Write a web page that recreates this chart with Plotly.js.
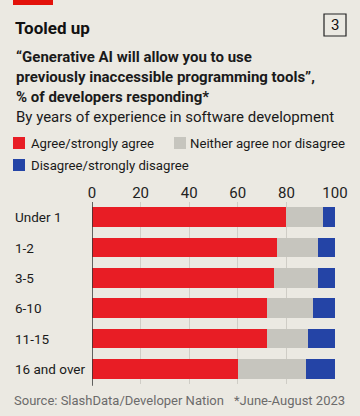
<!DOCTYPE html>
<html><head><meta charset="utf-8">
<script src="https://cdn.plot.ly/plotly-3.0.1.min.js"></script>
<style>html,body{margin:0;padding:0;background:#ebe9e2;}#chart{width:360px;height:416px;}</style>
</head><body><div id="chart"></div>
<script>
const categories = ["Under 1","1-2","3-5","6-10","11-15","16 and over"];
const agree = [80, 76, 75, 72, 72, 60];
const neither = [15, 17, 18, 19, 17, 28];
const disagree = [5, 7, 7, 9, 11, 12];
const seriesNames = ["Agree/strongly agree","Neither agree nor disagree","Disagree/strongly disagree"];
const colors = ["#e81d25","#c6c5be","#2444a6"];
const tickVals = [0,20,40,60,80,100];

const F = "Roboto, 'Liberation Sans', sans-serif";
const vals = [agree, neither, disagree];
const traces = vals.map((v,i)=>({
  type:"bar", orientation:"h", x:v, y:categories, name:seriesNames[i],
  marker:{color:colors[i], line:{width:0}}, width:0.64, hoverinfo:"skip"
}));

const px = x=>(x-92)/243, py = y=>1+(202-y)/182;
const ann = [];
ann.push({xref:"paper",yref:"paper",x:px(13),y:py(28),xanchor:"left",yanchor:"middle",text:"<b>Tooled up</b>",showarrow:false,font:{family:F,size:17,color:"#111"}});
ann.push({xref:"paper",yref:"paper",x:px(335),y:py(25),xanchor:"center",yanchor:"middle",text:"3",showarrow:false,font:{family:F,size:15,color:"#111"}});
const sub = ["“Generative AI will allow you to use","previously inaccessible programming tools”,","% of developers responding*"];
sub.forEach((s,i)=>ann.push({xref:"paper",yref:"paper",x:px(14),y:py(57+i*20.2),xanchor:"left",yanchor:"middle",text:"<b>"+s+"</b>",showarrow:false,font:{family:F,size:15,color:"#1a1a1a"}}));
ann.push({xref:"paper",yref:"paper",x:px(14),y:py(117),xanchor:"left",yanchor:"middle",text:"By years of experience in software development",showarrow:false,font:{family:F,size:15,color:"#1a1a1a"}});
// legend
const legPos = [[29,143],[188,143],[29,165]];
seriesNames.forEach((s,i)=>ann.push({xref:"paper",yref:"paper",x:px(legPos[i][0]),y:py(legPos[i][1]),xanchor:"left",yanchor:"middle",text:s,showarrow:false,font:{family:F,size:13.2,color:"#1a1a1a"}}));
// category labels
categories.forEach(c=>ann.push({xref:"paper",yref:"y",x:px(13),y:c,xanchor:"left",yanchor:"middle",text:c,showarrow:false,font:{family:F,size:13.5,color:"#1a1a1a"}}));
ann.push({xref:"paper",yref:"paper",x:px(12),y:py(400),xanchor:"left",yanchor:"middle",text:"Source: SlashData/Developer Nation",showarrow:false,font:{family:F,size:13,color:"#6b6b6b"}});
ann.push({xref:"paper",yref:"paper",x:px(347),y:py(400),xanchor:"right",yanchor:"middle",text:"*June-August 2023",showarrow:false,font:{family:F,size:13,color:"#6b6b6b"}});

const shapes = [
  {type:"rect",xref:"paper",yref:"paper",x0:px(13),x1:px(53),y0:py(0),y1:py(5),fillcolor:"#e3120b",line:{width:0}},
  {type:"rect",xref:"paper",yref:"paper",x0:px(324),x1:px(346),y0:py(14),y1:py(36),fillcolor:"rgba(0,0,0,0)",line:{width:1.2,color:"#222"}},
  {type:"rect",xref:"paper",yref:"paper",x0:px(13),x1:px(25),y0:py(137),y1:py(149),fillcolor:colors[0],line:{width:0}},
  {type:"rect",xref:"paper",yref:"paper",x0:px(174),x1:px(186),y0:py(137),y1:py(149),fillcolor:colors[1],line:{width:0}},
  {type:"rect",xref:"paper",yref:"paper",x0:px(13),x1:px(25),y0:py(159),y1:py(171),fillcolor:colors[2],line:{width:0}},
  {type:"line",xref:"x",yref:"paper",x0:0,x1:0,y0:-0.01,y1:1,line:{width:1.5,color:"#333"},layer:"above"}
];

Plotly.newPlot("chart", traces, {
  width:360, height:416, barmode:"stack", showlegend:false,
  paper_bgcolor:"#ebe9e2", plot_bgcolor:"#ebe9e2",
  margin:{l:92,r:25,t:202,b:32},
  xaxis:{side:"top",range:[0,100],tickvals:tickVals,ticks:"",showgrid:true,gridcolor:"#cfcdc6",gridwidth:1,zeroline:false,showline:false,tickfont:{family:F,size:15,color:"#222"},fixedrange:true},
  yaxis:{categoryorder:"array",categoryarray:categories,autorange:"reversed",showticklabels:false,ticks:"",showgrid:false,zeroline:false,fixedrange:true},
  annotations:ann, shapes:shapes
},{displayModeBar:false,staticPlot:true});
</script></body></html>
